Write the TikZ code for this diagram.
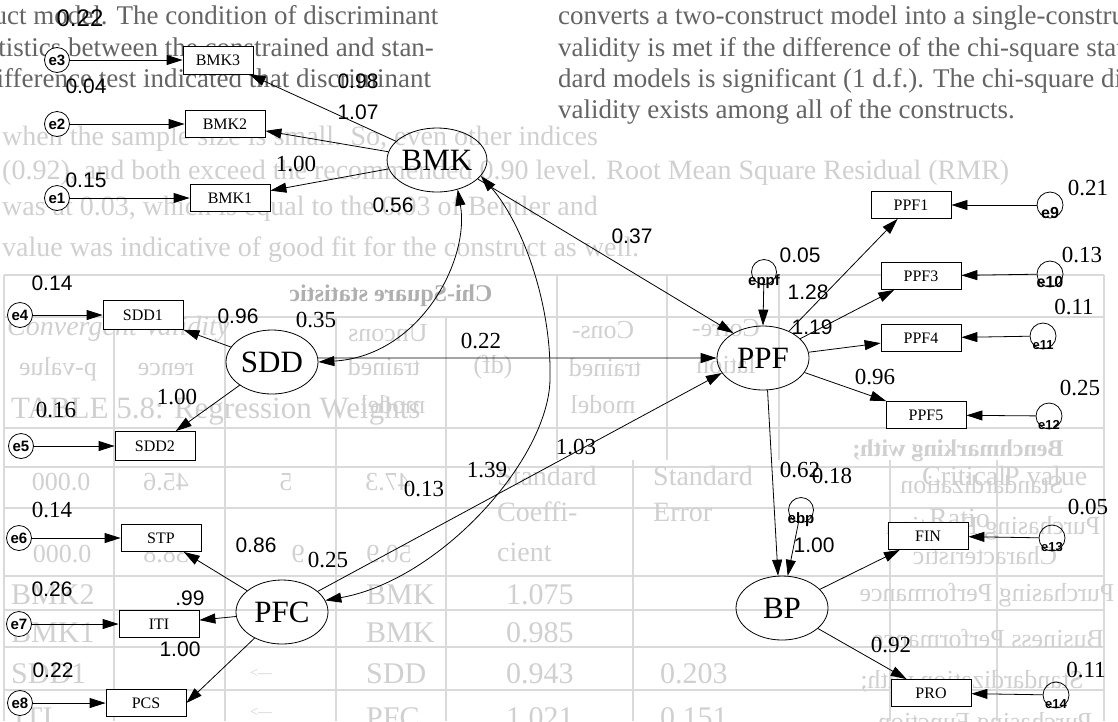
\documentclass[tikz,border=0pt]{standalone}
\usepackage{fontspec}
\setmainfont{Liberation Serif}
\newfontfamily\arialf{Liberation Sans}
\usetikzlibrary{arrows.meta,shapes.geometric}
\definecolor{inkgray}{RGB}{100,100,100}
\definecolor{paletext}{RGB}{208,208,208}
\definecolor{midtext}{RGB}{175,175,175}
\definecolor{gridgray}{RGB}{218,218,218}
\tikzset{
  latent/.style={ellipse, draw, line width=0.8pt, minimum width=92pt, minimum height=64pt, inner sep=0pt, font=\fontsize{31}{31}\selectfont},
  indic/.style={rectangle, draw, fill=white, line width=0.8pt, minimum width=80pt, minimum height=27pt, inner sep=0pt, font=\fontsize{16}{16}\selectfont},
  errl/.style={circle, draw, fill=white, line width=0.8pt, minimum size=25pt, inner sep=0pt, font=\arialf\bfseries\fontsize{15}{15}\selectfont},
  errr/.style={circle, draw, line width=0.8pt, minimum size=26pt, inner sep=0pt},
  errtag/.style={inner sep=0pt, font=\arialf\bfseries\fontsize{#1}{#1}\selectfont},
  reg/.style={line width=0.8pt, -{Triangle[length=16pt,width=10pt]}},
  cov/.style={line width=0.8pt, {Triangle[length=16pt,width=10pt]}-{Triangle[length=16pt,width=10pt]}},
  ns/.style={inner sep=0pt, font=\arialf\fontsize{21}{21}\selectfont},
  nr/.style={inner sep=0pt, font=\fontsize{23}{23}\selectfont},
  bodytext/.style={anchor=base west, inner sep=0pt, text=inkgray, font=\fontsize{27}{27}\selectfont},
  faint/.style={anchor=base west, inner sep=0pt, text=paletext, font=\fontsize{28}{28}\selectfont},
  cell/.style={faint, font=\fontsize{30}{30}\selectfont},
  backtext/.style={inner sep=0pt, text=paletext, font=\fontsize{26}{26}\selectfont},
  grid line/.style={draw=gridgray, line width=1.3pt}
}
\begin{document}
\begin{tikzpicture}[x=1pt,y=-1pt]
\useasboundingbox (0,0) rectangle (1118,721);
\fill[white] (0,0) rectangle (1118,721);

% ---- page background: table rules, running text, show-through of the reverse page ----
\begin{scope}
\clip (0,0) rectangle (1118,721);
\foreach \yy in {275,317,428,467,508,576,610,647,690}
  \draw[grid line] (4,\yy) -- (1104,\yy);
\foreach \xx in {114,225,336,446}
  \draw[grid line] (\xx,317) -- (\xx,721);
\draw[grid line] (4,275) -- (4,721);
\draw[grid line] (1104,275) -- (1104,721);
\foreach \xx in {557,667,779}
  \draw[grid line] (\xx,275) -- (\xx,460);
\foreach \xx in {633,890,997}
  \draw[grid line] (\xx,460) -- (\xx,721);

% reverse page (mirrored)
\node[backtext, text=midtext, font=\bfseries\fontsize{24}{24}\selectfont] (rb1) at (391,296) {\reflectbox{Chi-Square statistic}};
\node[backtext] (rb2) at (388,333) {\reflectbox{Uncons}};
\node[backtext] (rb3) at (384,367) {\reflectbox{trained}};
\node[backtext] (rb4) at (393,405) {\reflectbox{model}};
\node[backtext] (rb5) at (603,330) {\reflectbox{Cons-}};
\node[backtext] (rb6) at (605,368) {\reflectbox{trained}};
\node[backtext] (rb7) at (603,405) {\reflectbox{model}};
\node[backtext] (rb8) at (726,328) {\reflectbox{Corre-}};
\node[backtext] (rb9) at (726,365) {\reflectbox{lation}};
\node[backtext] (rb10) at (493,367) {\reflectbox{(df)}};
\node[backtext] (rb11) at (58,369) {\reflectbox{p-value}};
\node[backtext] (rb12) at (166,369) {\reflectbox{rence}};
\node[backtext] (rb13) at (61,482) {\reflectbox{0.000}};
\node[backtext] (rb14) at (166,482) {\reflectbox{45.6}};
\node[backtext] (rb15) at (286,482) {\reflectbox{5}};
\node[backtext] (rb16) at (388,482) {\reflectbox{47.3}};
\node[backtext] (rb17) at (62,554) {\reflectbox{0.000}};
\node[backtext] (rb18) at (166,554) {\reflectbox{38.8}};
\node[backtext] (rb19) at (298,554) {\reflectbox{9}};
\node[backtext] (rb20) at (389,554) {\reflectbox{50.9}};
\node[backtext, font=\bfseries\fontsize{24}{24}\selectfont] (rb21) at (958,451) {\reflectbox{Benchmarking with;}};
\node[backtext] (rb22) at (982,485) {\reflectbox{Standardization}};
\node[backtext] (rb23) at (993,528) {\reflectbox{Purchasing Function}};
\node[backtext] (rb24) at (985,556) {\reflectbox{Characteristic}};
\node[backtext] (rb25) at (987,595) {\reflectbox{Purchasing Performance}};
\node[backtext] (rb26) at (988,638) {\reflectbox{Business Performance}};
\node[backtext] (rb27) at (972,681) {\reflectbox{Standardization with;}};
\node[backtext] (rb28) at (985,724) {\reflectbox{Purchasing Function}};

% front page
\node[faint] (ta) at (2,145) {when the sample size is small. So, even other indices};
\node[faint] (tb) at (2,179) {(0.92), and both exceed the recommended 0.90 level. Root Mean Square Residual (RMR)};
\node[faint] (tc) at (2,215) {was at 0.03, which is equal to the 0.03 of Bentler and};
\node[faint] (td) at (2,256) {value was indicative of good fit for the construct as well.};
\node[faint, font=\itshape\fontsize{28}{28}\selectfont] (tconv) at (7,335) {Convergent Validity};
\node[faint, font=\fontsize{31}{31}\selectfont] (ttab) at (11,418) {TABLE 5.8: Regression Weights};
\node[faint] (h1) at (497,485) {Standard};
\node[faint] (h2) at (653,485) {Standard};
\node[faint] (h3) at (922,485) {Critical};
\node[faint] (h4) at (1004,485) {P value};
\node[faint] (h5) at (497,521) {Coeffi-};
\node[faint] (h6) at (653,521) {Error};
\node[faint] (h7) at (929,527) {Ratio};
\node[faint] (h8) at (497,561) {cient};
\node[cell] (r0a) at (11,604) {BMK2};
\node[cell] (r0c) at (366,604) {BMK};
\node[cell] (r0d) at (506,604) {1.075};
\node[cell] (rxa) at (11,642) {BMK1};
\node[cell] (rxc) at (366,642) {BMK};
\node[cell] (rxd) at (506,642) {0.985};
\node[cell] (r1a) at (11,683) {SDD1};
\node[faint, font=\fontsize{14}{14}\selectfont] (r1b) at (250,677) {<---};
\node[cell] (r1c) at (366,683) {SDD};
\node[cell] (r1d) at (506,683) {0.943};
\node[cell] (r1e) at (660,683) {0.203};
\node[cell] (r2a) at (14,727) {ITI};
\node[faint, font=\fontsize{14}{14}\selectfont] (r2b) at (250,716) {<---};
\node[cell] (r2c) at (366,727) {PFC};
\node[cell] (r2d) at (506,727) {1.021};
\node[cell] (r2e) at (660,727) {0.151};

\node[bodytext] (l1a) at (558,24) {converts a two-construct model into a single-construct model. The condition of discriminant};
\node[bodytext] (l1b) at (-560,24) {converts a two-construct model into a single-construct model. The condition of discriminant};
\node[bodytext] (l2a) at (558,56) {validity is met if the difference of the chi-square statistics between the constrained and stan-};
\node[bodytext] (l2b) at (-560,56) {validity is met if the difference of the chi-square statistics between the constrained and stan-};
\node[bodytext] (l3a) at (558,87) {dard models is significant (1 d.f.). The chi-square difference test indicated that discriminant};
\node[bodytext] (l3b) at (-560,87) {dard models is significant (1 d.f.). The chi-square difference test indicated that discriminant};
\node[bodytext] (l4a) at (558,118) {validity exists among all of the constructs.};
\end{scope}

% ---- latent constructs ----
\node[latent] (BMK) at (437,160) {BMK};
\node[latent] (SDD) at (272,362) {SDD};
\node[latent] (PFC) at (282,612) {PFC};
\node[latent] (PPF) at (763,358) {PPF};
\node[latent] (BP)  at (782,608) {BP};

% ---- indicators ----
\node[indic, minimum width=70pt, minimum height=28pt] (BMK3) at (218,60) {BMK3};
\node[indic] (BMK2) at (225,124) {BMK2};
\node[indic] (BMK1) at (230,198) {BMK1};
\node[indic, minimum height=29pt] (SDD1) at (143,315) {SDD1};
\node[indic, minimum height=29pt] (SDD2) at (155,446) {SDD2};
\node[indic] (STP) at (161,538) {STP};
\node[indic] (ITI) at (159,624) {ITI};
\node[indic] (PCS) at (146,703) {PCS};
\node[indic] (PPF1) at (911,205) {PPF1};
\node[indic] (PPF3) at (921,276) {PPF3};
\node[indic] (PPF4) at (921,338) {PPF4};
\node[indic] (PPF5) at (926,415) {PPF5};
\node[indic] (FIN) at (928,536) {FIN};
\node[indic] (PRO) at (931,693) {PRO};

% ---- error terms, left ----
\node[errl] (e3) at (57,60) {e3};
\node[errl] (e2) at (57,124) {e2};
\node[errl] (e1) at (57,198) {e1};
\node[errl] (e4) at (20,315) {e4};
\node[errl] (e5) at (21,446) {e5};
\node[errl] (e6) at (19,538) {e6};
\node[errl] (e7) at (19,624) {e7};
\node[errl] (e8) at (20,703) {e8};

% ---- error terms, right and disturbances ----
\node[errr] (e9)  at (1050,205) {};
\node[errr] (e10) at (1050,274) {};
\node[errr] (e11) at (1043,336) {};
\node[errr] (e12) at (1049,416) {};
\node[errr] (e13) at (1052,538) {};
\node[errr] (e14) at (1056,695) {};
\node[errr, minimum size=25pt] (eppf) at (764,272) {};
\node[errr, minimum size=25pt] (ebp) at (801,510) {};
\node[errtag=16] (e9t)  at ([yshift=5pt]e9.south) {e9};
\node[errtag=16] (e10t) at ([yshift=5pt]e10.south) {e10};
\node[errtag=13] (e11t) at ([yshift=4pt]e11.south) {e11};
\node[errtag=13] (e12t) at ([yshift=4pt]e12.south) {e12};
\node[errtag=13] (e13t) at ([yshift=4pt]e13.south) {e13};
\node[errtag=13] (e14t) at ([yshift=4pt]e14.south) {e14};
\node[errtag=15] (eppft) at ([yshift=3pt]eppf.south) {eppf};
\node[errtag=15] (ebpt) at ([yshift=3pt]ebp.south) {ebp};

% ---- measurement paths ----
\foreach \e/\b in {e3/BMK3,e2/BMK2,e1/BMK1,e4/SDD1,e5/SDD2,e6/STP,e7/ITI,e8/PCS,
                   e9/PPF1,e10/PPF3,e11/PPF4,e12/PPF5,e13/FIN,e14/PRO}
  \draw[reg] (\e) -- (\b);
\foreach \b in {BMK3,BMK2,BMK1}
  \draw[reg] (BMK) -- (\b);
\draw[reg] (SDD) -- (SDD1);
\draw[reg] (SDD) -- (SDD2);
\draw[reg] (PFC) -- (STP);
\draw[reg] (PFC) -- (ITI);
\draw[reg] (PFC) -- (PCS.east);
\foreach \b in {PPF1,PPF3,PPF4,PPF5}
  \draw[reg] (PPF) -- (\b);
\draw[reg] (BP) -- (FIN);
\draw[reg] (BP) -- (PRO);

% ---- structural paths ----
\draw[reg] (BMK.-25) -- (PPF.140);
\draw[reg] (SDD.5) -- (PPF.west);
\draw[reg] (PFC.30) -- (PPF.200);
\draw[reg] (PPF.-82) -- (BP.97);
\draw[reg] (eppf) -- (PPF.north);
\draw[reg] (ebp) -- (BP.80);

% ---- covariances ----
\draw[cov] (SDD.east) .. controls (420,356) and (470,260) .. (BMK.-55);
\draw[cov] (BMK.-20) .. controls (520,220) and (552,300) .. (550,380)
           .. controls (548,460) and (440,580) .. (PFC.15);

% ---- estimates ----
\node[ns, font=\arialf\fontsize{24}{24}\selectfont] (v1) at (80,18) {0.22};
\node[ns] (v2) at (86,86) {0.04};
\node[ns] (v3) at (86,180) {0.15};
\node[ns] (v4) at (358,81) {0.98};
\node[ns] (v5) at (358,112) {1.07};
\node[nr] (v6) at (296,164) {1.00};
\node[ns] (v7) at (393,205) {0.56};
\node[ns] (v8) at (52,283) {0.14};
\node[ns] (v9) at (238,316) {0.96};
\node[nr] (v10) at (316,320) {0.35};
\node[nr] (v11) at (481,341) {0.22};
\node[ns] (v12) at (632,236) {0.37};
\node[ns] (v13) at (800,255) {0.05};
\node[ns] (v14) at (808,292) {1.28};
\node[ns] (v15) at (812,327) {1.19};
\node[nr] (v16) at (1088,188) {0.21};
\node[nr] (v17) at (1082,255) {0.13};
\node[nr] (v18) at (1074,307) {0.11};
\node[nr] (v19) at (875,377) {0.96};
\node[nr] (v20) at (1080,388) {0.25};
\node[nr] (v21) at (177,397) {1.00};
\node[nr] (v22) at (56,410) {0.16};
\node[nr] (v23) at (576,447) {1.03};
\node[nr] (v24) at (487,470) {1.39};
\node[nr] (v25) at (424,489) {0.13};
\node[nr] (v26) at (52,510) {0.14};
\node[ns] (v27) at (256,545) {0.86};
\node[nr] (v28) at (328,560) {0.25};
\node[ns] (v29) at (52,589) {0.26};
\node[ns] (v30) at (190,598) {.99};
\node[ns] (v31) at (180,649) {1.00};
\node[ns] (v32) at (53,670) {0.22};
\node[nr] (v33) at (800,470) {0.62};
\node[nr] (v34) at (832,476) {0.18};
\node[ns] (v35) at (814,545) {1.00};
\node[nr] (v36) at (1088,507) {0.05};
\node[nr] (v37) at (891,645) {0.92};
\node[nr] (v38) at (1086,670) {0.11};
\end{tikzpicture}
\end{document}
